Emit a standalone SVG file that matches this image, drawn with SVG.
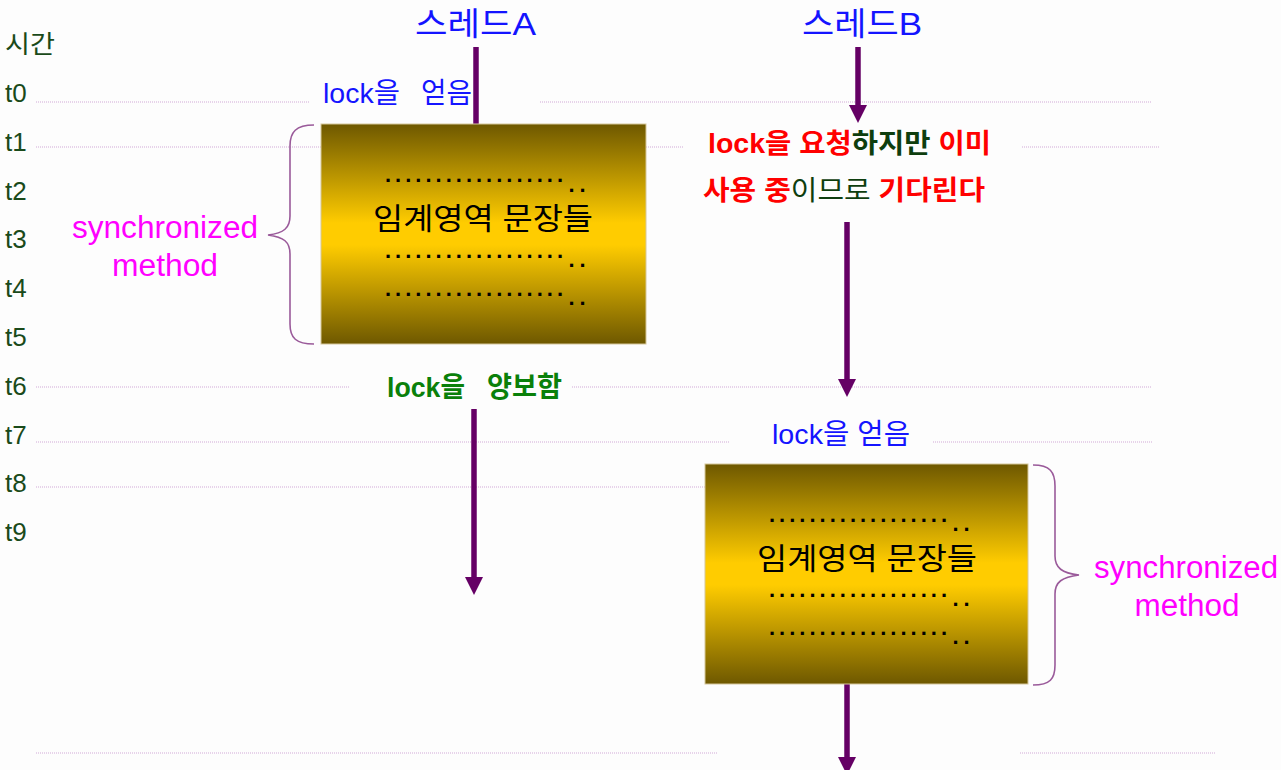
<svg xmlns="http://www.w3.org/2000/svg" width="1281" height="770" viewBox="0 0 1281 770">
<style>
  .f { font-family: "Liberation Sans", "Noto Sans CJK KR", sans-serif; }
  .time { font-size: 26px; fill: #1a4a1a; }
  .thread { font-size: 32px; fill: #1414ff; }
  .blue { font-size: 28px; fill: #1414ff; }
  .warn { font-size: 27px; font-weight: bold; }
  .red { fill: #ff0000; }
  .dg { fill: #0e3e0e; }
  .green { font-size: 28px; font-weight: bold; fill: #0a800a; }
  .sync { font-size: 31px; fill: #ff00ff; text-anchor: middle; }
  .crit { font-size: 30px; fill: #000; text-anchor: middle; }
  .dots { font-size: 22px; font-weight: bold; fill: #000; letter-spacing: 4px; }
  .dd { font-size: 22px; font-weight: bold; fill: #000; }
  .grid { stroke: #d2a9d8; stroke-width: 1.2; stroke-dasharray: 1 1; fill: none; }
  .brace { stroke: #9a5a9a; stroke-width: 1.6; fill: none; }
  .flow { stroke: #650065; stroke-width: 5.5; fill: none; }
  .box { fill: url(#gold); stroke: #d6c79a; stroke-width: 1; }
</style>
<defs>
  <linearGradient id="gold" x1="0" y1="0" x2="0" y2="1">
    <stop offset="0" stop-color="#6e5800"/>
    <stop offset="0.45" stop-color="#ffcc00"/>
    <stop offset="0.55" stop-color="#ffcc00"/>
    <stop offset="1" stop-color="#6e5800"/>
  </linearGradient>
  <marker id="head" viewBox="0 0 18 18" markerWidth="18" markerHeight="18" markerUnits="userSpaceOnUse" refX="6" refY="9" orient="auto">
    <path d="M0,0 L18,9 L0,18 z" fill="#650065"/>
  </marker>
</defs>
<rect x="0" y="0" width="1281" height="770" fill="#fdfdfd"/>

<g id="timeline">
  <path class="grid" d="M36,102 H310 M540,102 H1152 M36,147 H684 M1022,147 H1160 M36,387 H350 M572,387 H1152 M36,442 H730 M933,442 H1152 M36,487 H705 M36,753 H718 M1020,753 H1216"/>
  <g class="f time">
    <text x="5" y="53" font-size="25" textLength="50" lengthAdjust="spacingAndGlyphs">시간</text>
    <text x="5" y="102">t0</text>
    <text x="5" y="151">t1</text>
    <text x="5" y="200">t2</text>
    <text x="5" y="248">t3</text>
    <text x="5" y="297">t4</text>
    <text x="5" y="346">t5</text>
    <text x="5" y="395">t6</text>
    <text x="5" y="444">t7</text>
    <text x="5" y="492">t8</text>
    <text x="5" y="541">t9</text>
  </g>
</g>

<g id="threadA">
  <text class="f thread" x="415" y="35" textLength="121" lengthAdjust="spacingAndGlyphs">스레드A</text>
</g>
<g id="threadB">
  <text class="f thread" x="802" y="35" textLength="120" lengthAdjust="spacingAndGlyphs">스레드B</text>
</g>

<g id="connectors">
  <line class="flow" x1="476" y1="47" x2="476" y2="124"/>
  <line class="flow" x1="474" y1="409" x2="474" y2="583" marker-end="url(#head)"/>
  <line class="flow" x1="858" y1="47" x2="858" y2="111" marker-end="url(#head)"/>
  <line class="flow" x1="847" y1="222" x2="847" y2="385" marker-end="url(#head)"/>
  <line class="flow" x1="847" y1="684" x2="847" y2="763" marker-end="url(#head)"/>
</g>

<g id="lockA">
  <text class="f blue" x="323" y="103" textLength="77" lengthAdjust="spacingAndGlyphs">lock을</text>
  <text class="f blue" x="421" y="103" textLength="51" lengthAdjust="spacingAndGlyphs">얻음</text>
</g>

<g id="boxA">
  <rect class="box" x="321" y="124" width="325" height="220"/>
  <text class="f dots" x="385" y="182">..................</text>
  <text class="f dd" y="192"><tspan x="568.5">.</tspan><tspan x="579.5">.</tspan></text>
  <text class="f crit" x="483" y="229" textLength="220" lengthAdjust="spacingAndGlyphs">임계영역 문장들</text>
  <text class="f dots" x="385" y="258">..................</text>
  <text class="f dd" y="267"><tspan x="568.5">.</tspan><tspan x="579.5">.</tspan></text>
  <text class="f dots" x="385" y="296">..................</text>
  <text class="f dd" y="305"><tspan x="568.5">.</tspan><tspan x="579.5">.</tspan></text>
</g>

<g id="syncA">
  <path class="brace" d="M314,125 C296,125 290,132 290,146 L290,216 C290,228 284,233 268,235 C284,237 290,242 290,254 L290,324 C290,338 296,344 314,344"/>
  <text class="f sync" x="165" y="238" textLength="186" lengthAdjust="spacingAndGlyphs">synchronized</text>
  <text class="f sync" x="165" y="276" textLength="106" lengthAdjust="spacingAndGlyphs">method</text>
</g>

<g id="waitB">
  <text class="f warn" x="708" y="153" textLength="283" lengthAdjust="spacingAndGlyphs"><tspan class="red">lock을 요청</tspan><tspan class="dg">하지만</tspan><tspan class="red"> 이미</tspan></text>
  <text class="f warn" x="703" y="200" textLength="282" lengthAdjust="spacingAndGlyphs"><tspan class="red">사용 중</tspan><tspan class="dg" font-weight="normal" fill="#1a4a1a">이므로</tspan><tspan class="red"> 기다린다</tspan></text>
</g>

<g id="releaseA">
  <text class="f green" x="387" y="397" textLength="78" lengthAdjust="spacingAndGlyphs">lock을</text>
  <text class="f green" x="487" y="397" textLength="75" lengthAdjust="spacingAndGlyphs">양보함</text>
</g>

<g id="lockB">
  <text class="f blue" x="772" y="444" textLength="138" lengthAdjust="spacingAndGlyphs">lock을 얻음</text>
</g>

<g id="boxB">
  <rect class="box" x="705" y="464" width="323" height="220"/>
  <text class="f dots" x="769" y="522">..................</text>
  <text class="f dd" y="531"><tspan x="952.5">.</tspan><tspan x="963.5">.</tspan></text>
  <text class="f crit" x="867" y="569" textLength="220" lengthAdjust="spacingAndGlyphs">임계영역 문장들</text>
  <text class="f dots" x="769" y="597">..................</text>
  <text class="f dd" y="606"><tspan x="952.5">.</tspan><tspan x="963.5">.</tspan></text>
  <text class="f dots" x="769" y="635">..................</text>
  <text class="f dd" y="644"><tspan x="952.5">.</tspan><tspan x="963.5">.</tspan></text>
</g>

<g id="syncB">
  <path class="brace" d="M1033,465 C1050,465 1055,472 1055,486 L1055,556 C1055,568 1062,573 1079,575 C1062,577 1055,582 1055,594 L1055,665 C1055,679 1050,685 1033,685"/>
  <text class="f sync" x="1186" y="578" textLength="184" lengthAdjust="spacingAndGlyphs">synchronized</text>
  <text class="f sync" x="1187" y="616" textLength="105" lengthAdjust="spacingAndGlyphs">method</text>
</g>
</svg>
